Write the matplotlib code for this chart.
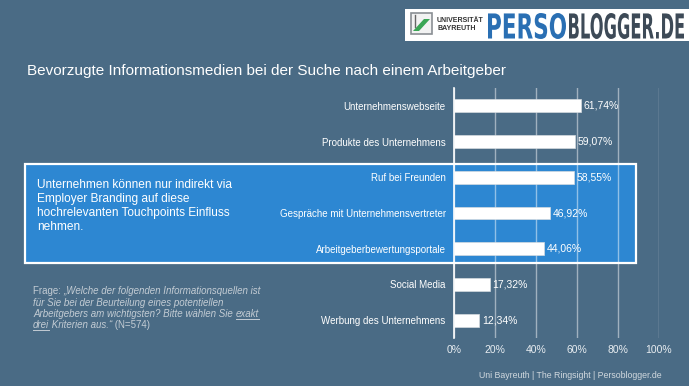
import matplotlib
matplotlib.use('Agg')
import matplotlib.pyplot as plt
from matplotlib.patches import Rectangle, PathPatch, Polygon
from matplotlib.textpath import TextPath
from matplotlib.font_manager import FontProperties
from matplotlib.transforms import Affine2D
from matplotlib.lines import Line2D

categories = ["Unternehmenswebseite", "Produkte des Unternehmens", "Ruf bei Freunden",
              "Gespräche mit Unternehmensvertreter", "Arbeitgeberbewertungsportale",
              "Social Media", "Werbung des Unternehmens"]
values = [61.74, 59.07, 58.55, 46.92, 44.06, 17.32, 12.34]
value_labels = ["61,74%", "59,07%", "58,55%", "46,92%", "44,06%", "17,32%", "12,34%"]
xticks = [0, 20, 40, 60, 80, 100]
xtick_labels = ["0%", "20%", "40%", "60%", "80%", "100%"]

title = "Bevorzugte Informationsmedien bei der Suche nach einem Arbeitgeber"
box_lines = ["Unternehmen können nur indirekt via", "Employer Branding auf diese",
             "hochrelevanten Touchpoints Einfluss", "nehmen."]
footer = "Uni Bayreuth | The Ringsight | Persoblogger.de"

W, H = 689, 386
BG = '#4a6b85'
BOX = '#2d87d2'
plt.rcParams['font.family'] = ['Liberation Sans', 'DejaVu Sans']

fig = plt.figure(figsize=(W / 100, H / 100), dpi=100)
fig.patch.set_facecolor(BG)
PIX = Affine2D().scale(1 / W, -1 / H).translate(0, 1) + fig.transFigure

# blue highlight box
fig.add_artist(Rectangle((25, 164), 611, 99, transform=PIX, facecolor=BOX,
                         edgecolor='white', lw=1.6, zorder=-1))

ax = fig.add_axes([454 / W, 1 - 338 / H, 205 / W, 250 / H])
ax.set_facecolor('none')
ypos = list(range(len(categories)))
ax.barh(ypos, values, height=0.36, color='white', edgecolor='#d5dbe0', lw=0.5, zorder=3)
for i, (v, lab) in enumerate(zip(values, value_labels)):
    ax.text(v + 1.2, i, lab, va='center', ha='left', fontsize=7.5, color='white', zorder=4)
ax.set_xlim(0, 100)
ax.set_ylim(len(categories) - 0.5, -0.5)
ax.set_xticks(xticks)
ax.set_xticklabels(xtick_labels)
ax.set_yticks(ypos)
ax.set_yticklabels(categories)
ax.tick_params(axis='x', length=0, pad=5, labelsize=7.5, labelcolor='#e8edf1')
ax.tick_params(axis='y', length=0, pad=6, labelsize=7, labelcolor='white')
ax.grid(axis='x', color='white', alpha=0.48, lw=1, zorder=0)
for s in ['top', 'right', 'bottom']:
    ax.spines[s].set_visible(False)
ax.spines['left'].set_color('white')
ax.spines['left'].set_linewidth(1.2)
ax.spines['left'].set_zorder(5)

# title
fig.text(27, 71, title, transform=PIX, fontsize=11, color='white', va='center', ha='left')

# box text
for k, line in enumerate(box_lines):
    fig.text(37, 185 + k * 14, line, transform=PIX, fontsize=8.6, color='white',
             va='center', ha='left')

# footer
fig.text(662, 376, footer, transform=PIX, fontsize=6.3, color='#d0d8de', va='center', ha='right')

# question text with mixed styles
QC = '#c3ccd4'
fig.canvas.draw()
renderer = fig.canvas.get_renderer()

def seg_width(s, style):
    t1 = fig.text(0, 0, '|' + s + '|', fontsize=7, style=style)
    t2 = fig.text(0, 0, '||', fontsize=7, style=style)
    w = t1.get_window_extent(renderer).width - t2.get_window_extent(renderer).width
    t1.remove(); t2.remove()
    return w

q_lines = [
    [("Frage: ", 'normal', False), ("„Welche der folgenden Informationsquellen ist", 'italic', False)],
    [("für Sie bei der Beurteilung eines potentiellen", 'italic', False)],
    [("Arbeitgebers am wichtigsten? Bitte wählen Sie ", 'italic', False), ("exakt", 'italic', True)],
    [("drei", 'italic', True), (" Kriterien aus.“", 'italic', False), (" (N=574)", 'normal', False)],
]
for k, segs in enumerate(q_lines):
    x = 33
    yb = 294 + k * 11.5
    for s, st, ul in segs:
        w = seg_width(s, st)
        fig.text(x, yb, s, transform=PIX, fontsize=7, style=st, color=QC, va='baseline', ha='left')
        if ul:
            fig.add_artist(Line2D([x, x + w], [yb + 1.8, yb + 1.8], transform=PIX, color=QC, lw=0.7))
        x += w

# logo
fig.add_artist(Rectangle((405, 9), 290, 32, transform=PIX, facecolor='white', edgecolor='none'))
fig.add_artist(Rectangle((410.5, 13), 21.5, 21, transform=PIX, facecolor='#f2f2f2',
                         edgecolor='#8a8f94', lw=1.2))
fig.add_artist(Polygon([(413, 31), (419, 31), (430, 19), (424, 19)], closed=True,
                       transform=PIX, facecolor='#3aa655', edgecolor='none'))
fig.add_artist(Line2D([415, 415], [15, 27], transform=PIX, color='#666', lw=1))
fig.text(437, 20, "UNIVERSITÄT", transform=PIX, fontsize=5.0, weight='bold', color='#333',
         va='center', ha='left')
fig.text(437, 29, "BAYREUTH", transform=PIX, fontsize=5.0, weight='bold', color='#333',
         va='center', ha='left')

fp = FontProperties(family=['Liberation Sans Narrow', 'DejaVu Sans'], weight='bold')

def logo_word(s, x0, x1, ytop, ybot, color):
    p = TextPath((0, 0), s, size=20, prop=fp)
    e = p.get_extents()
    sx = (x1 - x0) / e.width
    sy = (ybot - ytop) / e.height
    t = Affine2D().translate(-e.x0, -e.y0).scale(sx, -sy).translate(x0, ybot) + PIX
    fig.add_artist(PathPatch(p, transform=t, facecolor=color, edgecolor='none'))

logo_word("PERSO", 488, 566, 13, 39, '#2a6fb3')
logo_word("BLOGGER.DE", 569, 684, 13, 39, '#3d4a57')

fig.savefig('out.png', dpi=100, facecolor=BG)
